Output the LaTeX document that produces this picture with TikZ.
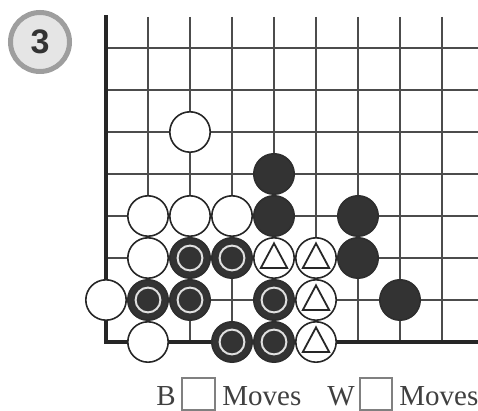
\documentclass[tikz,border=0pt]{standalone}
\usepackage{fontspec}
\setmainfont{Liberation Serif}
\setsansfont{Liberation Sans}
\begin{document}
\begin{tikzpicture}[x=0.5pt,y=-0.5pt,
  gridline/.style={draw=black!70, line width=0.75pt},
  boardedge/.style={draw=black!85, line width=2pt, line cap=rect},
  wstone/.style={circle, draw=black!85, fill=white, line width=0.8pt, minimum size=20.2pt, inner sep=0pt},
  bstone/.style={circle, draw=black!82, fill=black!80, line width=0.8pt, minimum size=20.2pt, inner sep=0pt},
  bmark/.style={bstone, path picture={\draw[black!12, line width=1pt] (path picture bounding box.center) circle (6.2pt);}},
  wtri/.style={wstone, path picture={\draw[black!85, line width=0.9pt, line join=miter]
      ([shift={(0pt,7.3pt)}]path picture bounding box.center) --
      ([shift={(6.6pt,-5pt)}]path picture bounding box.center) --
      ([shift={(-6.6pt,-5pt)}]path picture bounding box.center) -- cycle;}},
  label/.style={font=\fontsize{14.5}{14.5}\selectfont, text=black!75, inner sep=0pt, anchor=base west},
  movebox/.style={draw=black!50, line width=0.6pt}
]
\useasboundingbox (0,0) rectangle (478,411);
% grid
\foreach \c in {1,...,8} \draw[gridline] (106+42*\c,17) -- (106+42*\c,342);
\foreach \r in {1,...,7} \draw[gridline] (106,342-42*\r) -- (478,342-42*\r);
\draw[boardedge] (106,17) -- (106,342) -- (478,342);
% diagram number
\node[circle, draw=black!38, fill=black!10, line width=2.5pt, minimum size=29.5pt, inner sep=0pt,
  font=\fontsize{17}{17}\selectfont\sffamily\bfseries, text=black!80] (num) at (40,42) {3};
% white stones
\foreach \c/\r [count=\i] in {2/5, 1/3, 2/3, 3/3, 1/2, 0/1, 1/0}
  \node[wstone] (w\i) at (106+42*\c,342-42*\r) {};
% black stones
\foreach \c/\r [count=\i] in {4/4, 4/3, 6/3, 6/2, 7/1}
  \node[bstone] (b\i) at (106+42*\c,342-42*\r) {};
% marked black stones
\foreach \c/\r [count=\i] in {2/2, 3/2, 1/1, 2/1, 4/1, 3/0, 4/0}
  \node[bmark] (m\i) at (106+42*\c,342-42*\r) {};
% white stones with triangles
\foreach \c/\r [count=\i] in {4/2, 5/2, 5/1, 5/0}
  \node[wtri] (t\i) at (106+42*\c,342-42*\r) {};
% caption
\node[label] (lb) at (156,406) {B};
\draw[movebox] (182,378) rectangle (215,410);
\node[label] (lm1) at (222,406) {Moves};
\node[label] (lw) at (327,406) {W};
\draw[movebox] (360,378) rectangle (392,410);
\node[label] (lm2) at (399,406) {Moves};
\end{tikzpicture}
\end{document}
